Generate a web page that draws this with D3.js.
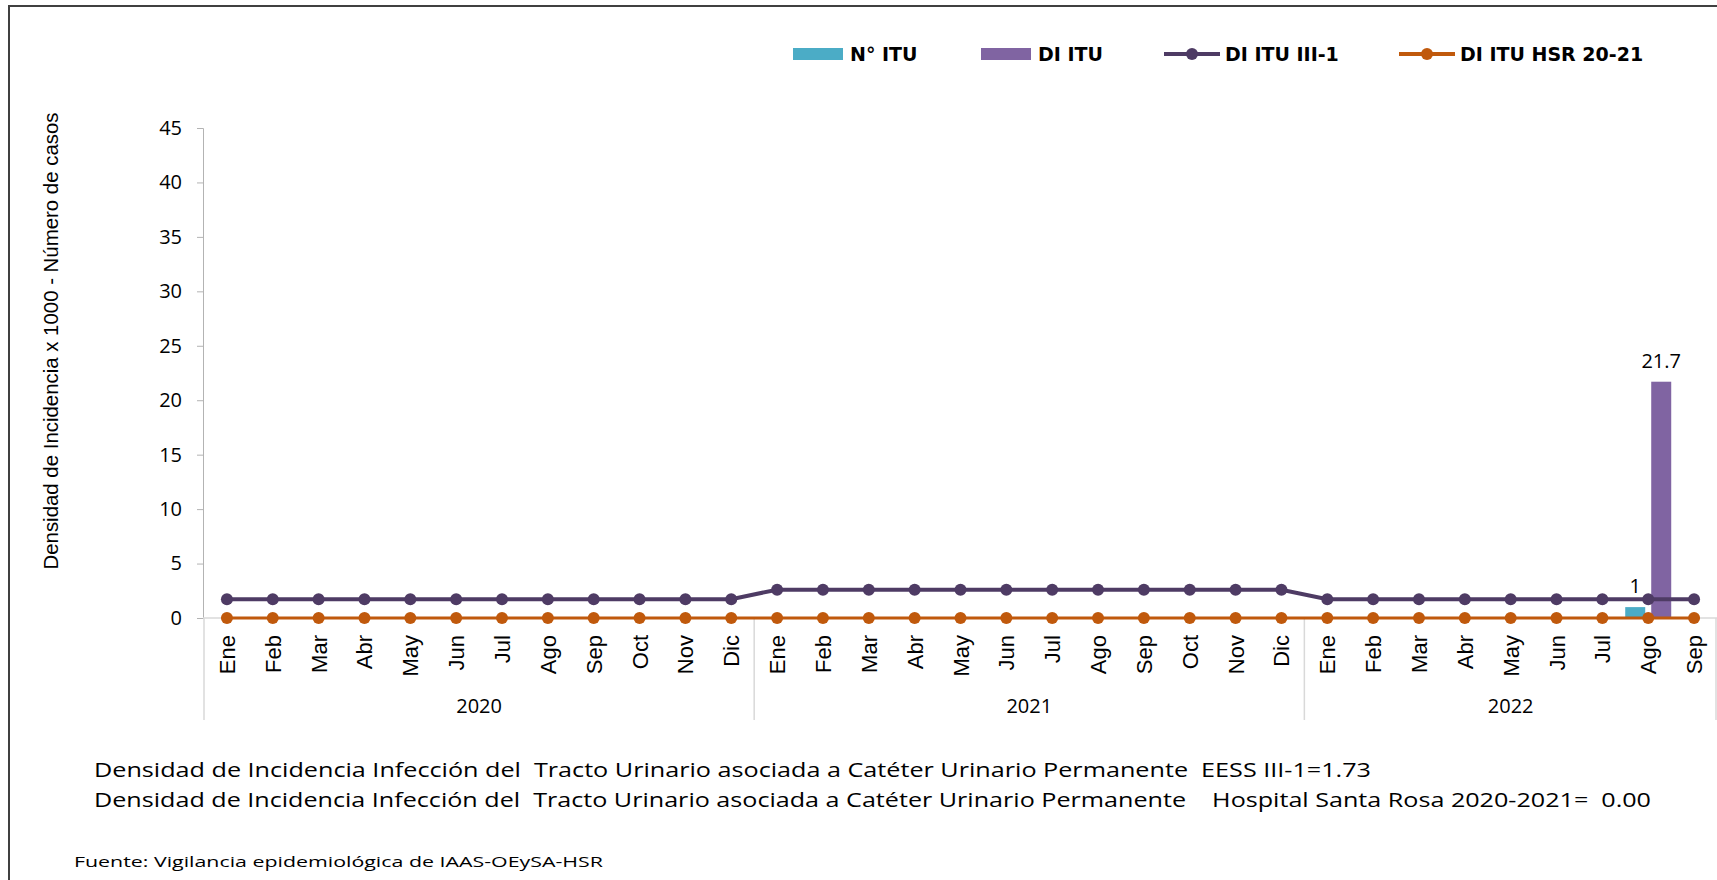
<!DOCTYPE html>
<html>
<head>
<meta charset="utf-8">
<script src="https://cdn.jsdelivr.net/npm/d3@7"></script>
<style>
  body { margin: 0; background: #fff; }
  text { white-space: pre; }
</style>
</head>
<body>
<script>
// chart data
const years = ["2020", "2021", "2022"];
const months = ["Ene", "Feb", "Mar", "Abr", "May", "Jun", "Jul", "Ago", "Sep", "Oct", "Nov", "Dic"];
const monthsPerYear = [12, 12, 9];
const nItu = [0,0,0,0,0,0,0,0,0,0,0,0, 0,0,0,0,0,0,0,0,0,0,0,0, 0,0,0,0,0,0,0,1,0];
const diItu = [0,0,0,0,0,0,0,0,0,0,0,0, 0,0,0,0,0,0,0,0,0,0,0,0, 0,0,0,0,0,0,0,21.7,0];
const diIII1 = [1.73,1.73,1.73,1.73,1.73,1.73,1.73,1.73,1.73,1.73,1.73,1.73,
  2.6,2.6,2.6,2.6,2.6,2.6,2.6,2.6,2.6,2.6,2.6,2.6,
  1.73,1.73,1.73,1.73,1.73,1.73,1.73,1.73,1.73];
const diHsr = [0,0,0,0,0,0,0,0,0,0,0,0, 0,0,0,0,0,0,0,0,0,0,0,0, 0,0,0,0,0,0,0,0,0];
const yTicks = [0, 5, 10, 15, 20, 25, 30, 35, 40, 45];
const footLines = [
  "Densidad de Incidencia Infección del  Tracto Urinario asociada a Catéter Urinario Permanente  EESS III-1=1.73",
  "Densidad de Incidencia Infección del  Tracto Urinario asociada a Catéter Urinario Permanente    Hospital Santa Rosa 2020-2021=  0.00"
];
const source = "Fuente: Vigilancia epidemiológica de IAAS-OEySA-HSR";

const colTeal = "#4BACC6", colPurple = "#8064A2", colDark = "#4E3B64", colOrange = "#C0590C";
const numFont = "'Open Sans', sans-serif";

// build the category keys
const cats = [];
years.forEach((y, i) => {
  for (let m = 0; m < monthsPerYear[i]; m++) cats.push({ key: y + "-" + m, month: months[m], year: y });
});

const width = 1717, height = 880;
const svg = d3.select("body").append("svg")
    .attr("width", width)
    .attr("height", height);

// outer frame (only top and left edges are visible)
svg.append("path")
    .attr("d", "M9,880 L9,6 L1717,6")
    .attr("fill", "none")
    .attr("stroke", "#404040")
    .attr("stroke-width", 2);

const xScale = d3.scaleBand()
    .domain(cats.map(c => c.key))
    .range([204, 1717]);

const yScale = d3.scaleLinear()
    .domain([0, 45])
    .range([618, 128]);

// y axis
const yAxis = svg.append("g")
    .attr("transform", "translate(203,0)")
    .call(d3.axisLeft(yScale).tickValues(yTicks).tickSize(6).tickPadding(15));
yAxis.select(".domain").attr("stroke", "#B3B3B3");
yAxis.selectAll(".tick line").attr("stroke", "#B3B3B3");
yAxis.selectAll(".tick text")
    .attr("font-family", numFont)
    .attr("font-size", 20)
    .attr("fill", "#000");

// x axis line
svg.append("line")
    .attr("x1", 203).attr("x2", 1717)
    .attr("y1", yScale(0)).attr("y2", yScale(0))
    .attr("stroke", "#D9D9D9")
    .attr("stroke-width", 1.5);

// year separators
let start = 0;
const bounds = [0];
monthsPerYear.forEach(n => { start += n; bounds.push(start); });
svg.append("g").selectAll("line")
    .data(bounds)
    .enter()
    .append("line")
    .attr("x1", d => d < cats.length ? xScale(cats[d].key) : xScale.range()[1] - 1)
    .attr("x2", d => d < cats.length ? xScale(cats[d].key) : xScale.range()[1] - 1)
    .attr("y1", yScale(0))
    .attr("y2", 720)
    .attr("stroke", "#D9D9D9")
    .attr("stroke-width", 1.5);

// month labels
svg.append("g").selectAll("text")
    .data(cats)
    .enter()
    .append("text")
    .attr("transform", d => "translate(" + (xScale(d.key) + xScale.bandwidth() / 2 + 8) + ",635) rotate(-90)")
    .attr("text-anchor", "end")
    .attr("font-family", "'Liberation Sans Narrow', 'Liberation Sans', sans-serif")
    .attr("font-size", 22)
    .text(d => d.month);

// year labels
svg.append("g").selectAll("text")
    .data(years)
    .enter()
    .append("text")
    .attr("x", (d, i) => (xScale(cats[bounds[i]].key) + xScale(cats[bounds[i + 1] - 1].key) + xScale.bandwidth()) / 2)
    .attr("y", 713)
    .attr("text-anchor", "middle")
    .attr("font-family", numFont)
    .attr("font-size", 20)
    .text(d => d);

// bars
const barW = 20;
const barData = [];
cats.forEach((c, i) => {
  barData.push({ key: c.key, v: nItu[i], off: -23, color: colTeal });
  barData.push({ key: c.key, v: diItu[i], off: 3, color: colPurple });
});
const center = k => xScale(k) + xScale.bandwidth() / 2;

svg.append("g").selectAll("rect")
    .data(barData.filter(d => d.v > 0))
    .enter()
    .append("rect")
    .attr("x", d => center(d.key) + d.off)
    .attr("y", d => yScale(d.v))
    .attr("width", barW)
    .attr("height", d => yScale(0) - yScale(d.v))
    .attr("fill", d => d.color);

// bar value labels
svg.append("g").selectAll("text")
    .data(barData.filter(d => d.v > 0))
    .enter()
    .append("text")
    .attr("x", d => center(d.key) + d.off + barW / 2)
    .attr("y", d => yScale(d.v) - 14)
    .attr("text-anchor", "middle")
    .attr("font-family", numFont)
    .attr("font-size", 20)
    .text(d => d.v);

// lines with markers
const lineGen = d3.line()
    .x((d, i) => center(cats[i].key))
    .y(d => yScale(d));

const series = [
  { values: diHsr, color: colOrange, w: 3 },
  { values: diIII1, color: colDark, w: 4 }
];
series.forEach(s => {
  svg.append("path")
      .datum(s.values)
      .attr("d", lineGen)
      .attr("fill", "none")
      .attr("stroke", s.color)
      .attr("stroke-width", s.w);
  svg.append("g").selectAll("circle")
      .data(s.values)
      .enter()
      .append("circle")
      .attr("cx", (d, i) => center(cats[i].key))
      .attr("cy", d => yScale(d))
      .attr("r", 6)
      .attr("fill", s.color);
});

// legend
const legend = [
  { label: "N° ITU", type: "bar", color: colTeal, x: 793 },
  { label: "DI ITU", type: "bar", color: colPurple, x: 981 },
  { label: "DI ITU III-1", type: "line", color: colDark, x: 1164 },
  { label: "DI ITU HSR 20-21", type: "line", color: colOrange, x: 1399 }
];
const lg = svg.append("g").selectAll("g")
    .data(legend)
    .enter()
    .append("g")
    .attr("transform", d => "translate(" + d.x + ",54)");
lg.filter(d => d.type === "bar").append("rect")
    .attr("x", 0).attr("y", -6)
    .attr("width", 50).attr("height", 12)
    .attr("fill", d => d.color);
lg.filter(d => d.type === "line").append("line")
    .attr("x1", 0).attr("x2", 56)
    .attr("stroke", d => d.color)
    .attr("stroke-width", 4);
lg.filter(d => d.type === "line").append("circle")
    .attr("cx", 28).attr("r", 6)
    .attr("fill", d => d.color);
lg.append("text")
    .attr("x", d => d.type === "bar" ? 57 : 61)
    .attr("y", 7)
    .attr("font-family", "'DejaVu Sans', sans-serif")
    .attr("font-weight", "bold")
    .attr("font-size", 19)
    .text(d => d.label);

// y axis title
svg.append("text")
    .attr("transform", "translate(58,341) rotate(-90)")
    .attr("text-anchor", "middle")
    .attr("font-family", "'Liberation Sans Narrow', 'Liberation Sans', sans-serif")
    .attr("font-size", 21)
    .attr("textLength", 457)
    .attr("lengthAdjust", "spacingAndGlyphs")
    .text("Densidad de Incidencia x 1000 - Número de casos");

// footnotes
svg.append("g").selectAll("text")
    .data(footLines)
    .enter()
    .append("text")
    .attr("x", 94)
    .attr("y", (d, i) => 777 + i * 30)
    .attr("font-family", numFont)
    .attr("font-size", 20)
    .attr("textLength", (d, i) => i === 0 ? 1277 : 1557)
    .attr("lengthAdjust", "spacingAndGlyphs")
    .text(d => d);

svg.append("text")
    .attr("x", 74)
    .attr("y", 867)
    .attr("font-family", numFont)
    .attr("font-size", 14)
    .attr("textLength", 529)
    .attr("lengthAdjust", "spacingAndGlyphs")
    .text(source);
</script>
</body>
</html>
